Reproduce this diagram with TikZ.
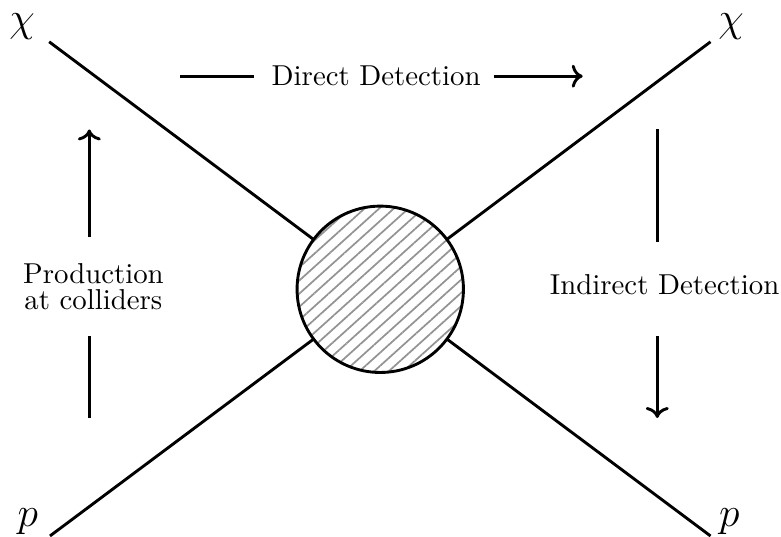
\documentclass[tikz,border=0pt]{standalone}
\usetikzlibrary{arrows.meta, positioning, patterns.meta}

\tikzset{
    leg/.style={line width=1pt},
    flow/.style={line width=1pt},
    blob/.style={circle, draw, line width=1pt, minimum size=2.03cm, inner sep=0pt,
        pattern={Lines[angle=42, distance=3.4pt, line width=0.6pt]}, pattern color=gray!85},
    ext/.style={font=\Large, inner sep=0pt},
    chan/.style={font=\normalsize, align=center, inner xsep=4.3pt}
}

\begin{document}
\begin{tikzpicture}
    \useasboundingbox (-4.64,-3.02) rectangle (4.89,3.53);

    % --- Blob vertex ---
    \node[blob] (vtx) at (0,0) {};

    % --- External legs ---
    \coordinate (chiIn) at (-4.04, 3.02);
    \coordinate (chiOut) at (4.03, 3.02);
    \coordinate (pIn) at (-4.03, -3.01);
    \coordinate (pOut) at (4.03, -3.01);
    \foreach \e in {chiIn, chiOut, pIn, pOut}
        \draw[leg] (\e) -- (vtx);

    \node[ext] (chiA) at (-4.37, 3.21) {$\chi$};
    \node[ext] (chiB) at (4.28, 3.20) {$\chi$};
    \node[ext] (pA) at (-4.30, -2.83) {$p$};
    \node[ext] (pB) at (4.26, -2.83) {$p$};

    % --- Direct detection (left to right) ---
    \node[chan] (dd) at (-0.05, 2.60) {Direct Detection};
    \coordinate (ddL) at (-2.44, 2.60);
    \coordinate (ddR) at (2.47, 2.60);
    \draw[flow, shorten >=1.5pt] (ddL) -- (dd.west);
    \draw[flow, ->] (dd.east) -- (ddR);

    % --- Production at colliders (bottom to top) ---
    \node[chan, inner ysep=9pt] (pc) at (-3.50, 0.03) {Production\\[-3pt]at colliders};
    \coordinate (pcB) at (-3.55, -1.57);
    \coordinate (pcT) at (-3.55, 1.95);
    \draw[flow] (pcB) -- (pcB |- pc.south);
    \draw[flow, ->] (pcT |- pc.north) -- (pcT);

    % --- Indirect detection (top to bottom) ---
    \node[chan, inner ysep=11pt] (id) at (3.47, 0.055) {Indirect Detection};
    \coordinate (idT) at (3.38, 1.95);
    \coordinate (idB) at (3.38, -1.57);
    \draw[flow] (idT) -- (idT |- id.north);
    \draw[flow, ->, shorten <=3pt] (idB |- id.south) -- (idB);
\end{tikzpicture}
\end{document}
